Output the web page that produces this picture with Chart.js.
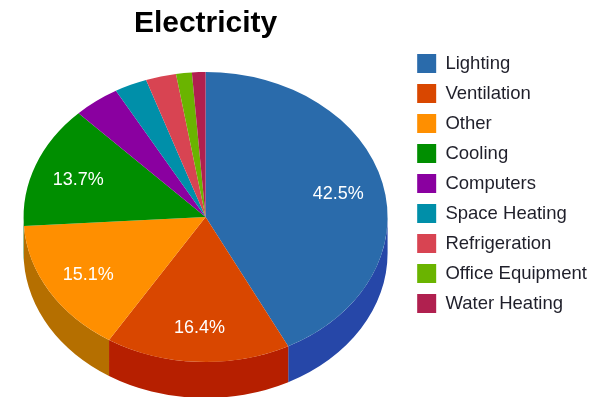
<!DOCTYPE html>
<html>
<head>
<meta charset="utf-8">
<title>Electricity</title>
<script src="https://cdn.jsdelivr.net/npm/chart.js@4/dist/chart.umd.min.js"></script>
<style>
  html, body { margin: 0; padding: 0; background: #fff; }
  #wrap { width: 616px; height: 397px; }
</style>
</head>
<body>
<div id="wrap"><canvas id="pieChart"></canvas></div>
<script>
// End uses and their share of electricity consumption (%)
const categories = ['Lighting', 'Ventilation', 'Other', 'Cooling', 'Computers', 'Space Heating', 'Refrigeration', 'Office Equipment', 'Water Heating'];
const shares = [42.5, 16.4, 15.1, 13.7, 4.1, 2.9, 2.7, 1.4, 1.2];

// top face and side wall colours, one per slice
const topColors = ['#2a6bab', '#d94700', '#ff8f00', '#008e00', '#8a00a0', '#008fa9', '#d84452', '#6ab400', '#b0204f'];
const sideColors = ['#2647a8', '#b61f00', '#b56f00', '#006200', '#5e0070', '#006378', '#9a2f39', '#4a7d00', '#7a1537'];

const TILT = 145 / 182;   // vertical squash of the pie
const DEPTH = 36;         // height of the side wall in px
const LABEL_POS = 0.75;   // label distance from centre, fraction of radius

// Fake 3D: squash the pie and draw the visible part of the side wall under it
const pie3d = {
    id: 'pie3d',
    beforeDatasetsDraw(chart) {
        const ctx = chart.ctx;
        const arcs = chart.getDatasetMeta(0).data;
        const cx = arcs[0].x, cy = arcs[0].y;
        ctx.save();
        ctx.translate(0, cy);
        ctx.scale(1, TILT);
        ctx.translate(0, -cy);

        const d = DEPTH / TILT;
        arcs.forEach((arc, i) => {
            // only the front half (canvas angles 0..PI) of the wall shows
            const s = Math.max(arc.startAngle, 0);
            const e = Math.min(arc.endAngle, Math.PI);
            if (e <= s) return;
            const r = arc.outerRadius;
            ctx.beginPath();
            ctx.arc(cx, cy, r, s, e);
            ctx.arc(cx, cy + d, r, e, s, true);
            ctx.closePath();
            ctx.fillStyle = sideColors[i];
            ctx.fill();
        });
    },
    afterDatasetsDraw(chart) {
        const ctx = chart.ctx;
        ctx.restore();

        // percentage labels on the big slices
        const arcs = chart.getDatasetMeta(0).data;
        ctx.save();
        ctx.fillStyle = '#ffffff';
        ctx.font = '18px Arial, "Liberation Sans", sans-serif';
        ctx.textAlign = 'center';
        ctx.textBaseline = 'middle';
        arcs.forEach((arc, i) => {
            if (shares[i] < 10) return;
            const mid = (arc.startAngle + arc.endAngle) / 2;
            const r = arc.outerRadius * LABEL_POS;
            const px = arc.x + Math.cos(mid) * r;
            const py = arc.y + Math.sin(mid) * r * TILT + 2;
            ctx.fillText(shares[i].toFixed(1) + '%', px, py);
        });
        ctx.restore();
    }
};

const ctxPie = document.getElementById('pieChart').getContext('2d');
const pieChart = new Chart(ctxPie, {
    type: 'pie',
    data: {
        labels: categories,
        datasets: [{
            data: shares,
            backgroundColor: topColors,
            borderWidth: 0,
            radius: 182,
            clip: false
        }]
    },
    options: {
        responsive: true,
        maintainAspectRatio: false,
        animation: false,
        layout: { padding: { left: 5, right: 19, top: 0, bottom: 30 } },
        plugins: {
            title: {
                display: true,
                text: 'Electricity',
                fullSize: false,
                color: '#000',
                font: { family: 'Arial, "Liberation Sans", sans-serif', size: 30, weight: 'bold' },
                padding: { top: 6, bottom: 25 }
            },
            legend: {
                position: 'right',
                labels: {
                    boxWidth: 19,
                    boxHeight: 19,
                    padding: 11,
                    color: '#1f1f2a',
                    font: { family: 'Arial, "Liberation Sans", sans-serif', size: 18.5 }
                }
            },
            tooltip: { enabled: false }
        }
    },
    plugins: [pie3d]
});
</script>
</body>
</html>
